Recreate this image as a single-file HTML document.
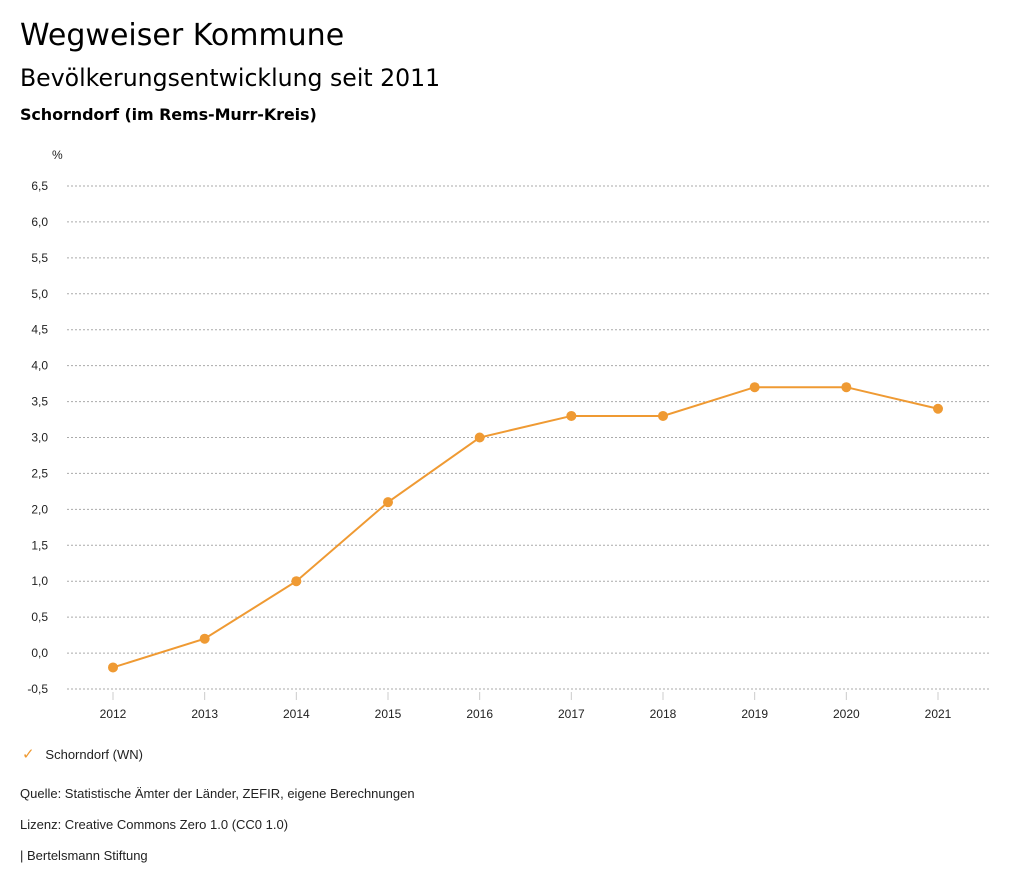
<!DOCTYPE html>
<html><head><meta charset="utf-8"><style>
body{margin:0;background:#fff;font-family:"Liberation Sans",sans-serif;color:#000;width:1024px;height:888px;overflow:hidden;position:relative}
.t{position:absolute;white-space:nowrap}
</style></head><body>
<div class="t" style="left:20px;top:18px;font-size:30px;font-family:'DejaVu Sans',sans-serif">Wegweiser Kommune</div>
<div class="t" style="left:20px;top:64px;font-size:23.6px;font-family:'DejaVu Sans',sans-serif">Bevölkerungsentwicklung seit 2011</div>
<div class="t" style="left:20px;top:105px;font-size:16px;font-family:'DejaVu Sans',sans-serif;font-weight:bold;letter-spacing:-0.1px">Schorndorf (im Rems-Murr-Kreis)</div>
<svg id="chart" width="1024" height="888" style="position:absolute;left:0;top:0"></svg>
<div class="t" style="left:22px;top:745px;font-size:13px;color:#222"><span style="color:#ef9a33;font-size:15px">✓</span>&nbsp;&nbsp;&nbsp;Schorndorf (WN)</div>
<div class="t" style="left:20px;top:786px;font-size:13px;color:#222">Quelle: Statistische Ämter der Länder, ZEFIR, eigene Berechnungen</div>
<div class="t" style="left:20px;top:817px;font-size:13px;color:#222">Lizenz: Creative Commons Zero 1.0 (CC0 1.0)</div>
<div class="t" style="left:20px;top:848px;font-size:13px;color:#222">| Bertelsmann Stiftung</div>
<script>
const years=[2012,2013,2014,2015,2016,2017,2018,2019,2020,2021];
const values=[-0.2,0.2,1.0,2.1,3.0,3.3,3.3,3.7,3.7,3.4];
const yTicks=[-0.5,0,0.5,1,1.5,2,2.5,3,3.5,4,4.5,5,5.5,6,6.5];
const NS="http://www.w3.org/2000/svg";
const svg=document.getElementById('chart');
const y=v=>689-(v+0.5)/7*503;
const x=i=>113+i*(825/(years.length-1));
function mk(t,a){const e=document.createElementNS(NS,t);for(const k in a)e.setAttribute(k,a[k]);svg.appendChild(e);return e;}
let u=mk('text',{x:52,y:159,'font-size':12,fill:'#222','font-family':'Liberation Sans'});u.textContent='%';


yTicks.forEach(v=>{
 const g=mk('line',{x1:67,x2:990,y1:y(v),y2:y(v),stroke:'#aaa','stroke-dasharray':'2,2','stroke-width':1});
 
 
 const t=mk('text',{x:48,y:y(v)+4,'font-size':12,'text-anchor':'end',fill:'#222','font-family':'Liberation Sans'});
 t.textContent=v.toFixed(1).replace('.',',');
 
 
});
years.forEach((yr,i)=>{
 const l=mk('line',{x1:x(i),x2:x(i),y1:692,y2:700,stroke:'#ccc'});
 
 
 const t=mk('text',{x:x(i),y:718,'font-size':12,'text-anchor':'middle',fill:'#222','font-family':'Liberation Sans'});
 t.textContent=yr;
 
 
});
const p=mk('polyline',{points:values.map((v,i)=>x(i)+','+y(v)).join(' '),fill:'none',stroke:'#ef9a33','stroke-width':2});


values.forEach((v,i)=>{
 const c=mk('circle',{cx:x(i),cy:y(v),r:5,fill:'#ef9a33'});
 
 
});
</script>
</body></html>
